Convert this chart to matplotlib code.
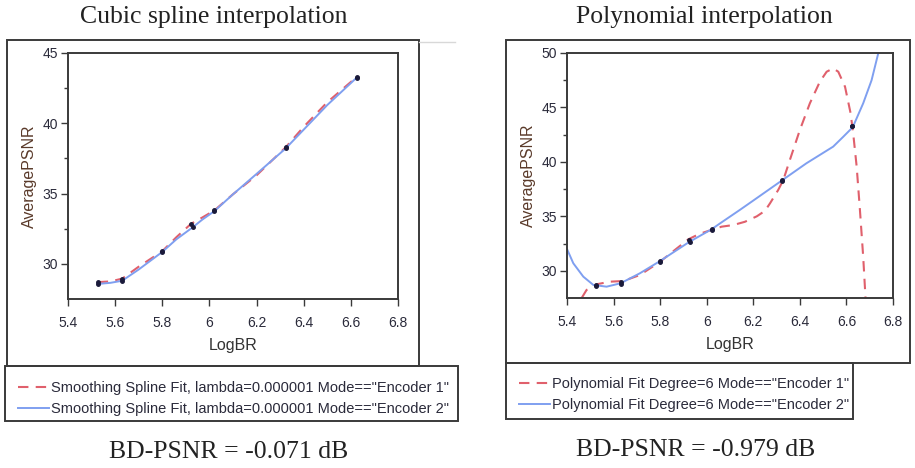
import matplotlib
matplotlib.use("Agg")
import matplotlib.pyplot as plt
from matplotlib.patches import Rectangle
from matplotlib.lines import Line2D

# measured points (same for both panels)
enc1_br = [5.526, 5.63, 5.80, 5.922, 6.021, 6.324, 6.625]
enc1_psnr = [28.7, 28.95, 30.9, 32.85, 33.8, 38.3, 43.3]
enc2_br = [5.526, 5.63, 5.80, 5.929, 6.021, 6.324, 6.625]
enc2_psnr = [28.57, 28.8, 30.85, 32.6, 33.75, 38.22, 43.25]

# smoothing spline curves
spl1_x = [5.526, 5.58, 5.63, 5.70, 5.80, 5.86, 5.922, 5.97, 6.021, 6.10, 6.20, 6.324, 6.40, 6.50, 6.625]
spl1_y = [28.7, 28.75, 28.95, 29.8, 30.9, 31.9, 32.85, 33.3, 33.8, 34.95, 36.3, 38.3, 39.75, 41.5, 43.3]
spl2_x = [5.526, 5.58, 5.63, 5.70, 5.80, 5.86, 5.929, 5.97, 6.021, 6.10, 6.20, 6.324, 6.40, 6.50, 6.625]
spl2_y = [28.57, 28.65, 28.8, 29.6, 30.85, 31.75, 32.6, 33.15, 33.75, 34.95, 36.4, 38.22, 39.55, 41.3, 43.25]

# degree-6 polynomial curves
poly1_x = [5.463, 5.484, 5.527, 5.585, 5.642, 5.713, 5.80, 5.921, 5.97, 6.02, 6.064, 6.114, 6.164,
           6.215, 6.25, 6.272, 6.307, 6.329, 6.357, 6.40, 6.443, 6.486, 6.515, 6.543, 6.565,
           6.594, 6.618, 6.629, 6.644, 6.658, 6.672, 6.682]
poly1_y = [27.5, 28.24, 28.76, 29.0, 29.06, 29.61, 30.84, 32.89, 33.4, 33.75, 34.05, 34.2, 34.5,
           35.0, 35.5, 36.2, 37.42, 38.34, 40.17, 42.93, 45.38, 47.37, 48.28, 48.59, 48.28,
           46.9, 44.46, 42.63, 39.56, 35.58, 31.29, 27.5]
poly2_x = [5.40, 5.427, 5.47, 5.513, 5.57, 5.63, 5.713, 5.80, 5.925, 6.02, 6.057, 6.143, 6.2,
           6.32, 6.428, 6.543, 6.586, 6.627, 6.672, 6.708, 6.737]
poly2_y = [32.0, 30.69, 29.46, 28.7, 28.54, 28.85, 29.77, 30.9, 32.65, 33.8, 34.35, 35.6, 36.45,
           38.25, 39.87, 41.4, 42.3, 43.18, 45.38, 47.5, 50.0]

spline_labels = ['Smoothing Spline Fit, lambda=0.000001 Mode=="Encoder 1"',
                 'Smoothing Spline Fit, lambda=0.000001 Mode=="Encoder 2"']
poly_labels = ['Polynomial Fit Degree=6 Mode=="Encoder 1"',
               'Polynomial Fit Degree=6 Mode=="Encoder 2"']

W, H = 915, 468
RED = '#e0606c'
BLUE = '#7f9ff0'
EDGE = '#3a3a3a'


def box(x0, y0, x1, y1):
    # pixel box (top-left origin) -> figure fraction rect
    return [x0 / W, 1 - y1 / H, (x1 - x0) / W, (y1 - y0) / H]


fig = plt.figure(figsize=(W / 100, H / 100), dpi=100)


def frame(x0, y0, x1, y1):
    r = box(x0, y0, x1, y1)
    fig.add_artist(Rectangle((r[0], r[1]), r[2], r[3], transform=fig.transFigure,
                             fill=False, edgecolor=EDGE, lw=1.4))


def panel(rect, ylim, ymajor, c1, c2, labels, leg_xy):
    ax = fig.add_axes(box(*rect))
    ax.plot(c1[0], c1[1], color=RED, lw=1.5, dashes=(5, 3.5), label=labels[0])
    ax.plot(c2[0], c2[1], color=BLUE, lw=1.4, label=labels[1])
    ax.plot(enc1_br, enc1_psnr, 'o', ms=2.5, color='#1a1a3a', zorder=5)
    ax.plot(enc2_br, enc2_psnr, 'o', ms=2.5, color='#1a1a3a', zorder=5)
    ax.set_xlim(5.4, 6.8)
    ax.set_ylim(*ylim)
    ax.set_xticks([5.4, 5.6, 5.8, 6.0, 6.2, 6.4, 6.6, 6.8])
    ax.set_xticklabels(['5.4', '5.6', '5.8', '6', '6.2', '6.4', '6.6', '6.8'])
    ax.set_yticks(ymajor)
    ax.set_yticks([v + 2.5 for v in ymajor[:-1]], minor=True)
    ax.tick_params(which='major', direction='out', length=5, width=1, colors=EDGE,
                   labelsize=10, labelcolor='#2a2a3a', pad=2)
    ax.tick_params(axis='x', which='major', pad=7)
    ax.tick_params(which='minor', direction='out', length=3, width=1, colors=EDGE)
    for s in ax.spines.values():
        s.set_color(EDGE)
        s.set_linewidth(1.4)
    ax.set_xlabel('LogBR', fontsize=11.5, color='#333333', labelpad=6)
    ax.set_ylabel('AveragePSNR', fontsize=11.5, color='#5a3a2a', labelpad=4)
    fig.legend(handles=ax.get_lines()[:2], labels=labels, loc='upper left',
               bbox_to_anchor=(leg_xy[0] / W, 1 - leg_xy[1] / H), frameon=False,
               fontsize=10.5, handlelength=2.1, handletextpad=0.15, labelspacing=0.5,
               borderpad=0, borderaxespad=0, labelcolor='#2a2a3a')
    return ax


plt.rcParams['font.family'] = ['Liberation Sans', 'DejaVu Sans']

panel((68, 53, 398, 299), (27.5, 45), [30, 35, 40, 45],
      (spl1_x, spl1_y), (spl2_x, spl2_y), spline_labels, (18, 381))
panel((567, 53, 893, 298), (27.5, 50), [30, 35, 40, 45, 50],
      (poly1_x, poly1_y), (poly2_x, poly2_y), poly_labels, (519, 377))

# outer frames and legend boxes
frame(7, 40, 419, 366)
frame(5, 366, 458, 421)
frame(506, 40, 910, 363)
frame(506, 363, 853, 419)
fig.add_artist(Line2D([419 / W, 455 / W], [1 - 42 / H, 1 - 42 / H], transform=fig.transFigure,
                      color='#d8d8d8', lw=1))

serif = ['Liberation Serif', 'DejaVu Serif']
fig.text(214 / W, 1 - 17 / H, 'Cubic spline interpolation', ha='center', va='center',
         fontsize=18.5, family=serif, color='#222222')
fig.text(704 / W, 1 - 17 / H, 'Polynomial interpolation', ha='center', va='center',
         fontsize=18.5, family=serif, color='#222222')
fig.text(229 / W, 1 - 452 / H, 'BD-PSNR = -0.071 dB', ha='center', va='center',
         fontsize=18.5, family=serif, color='#222222')
fig.text(696 / W, 1 - 450 / H, 'BD-PSNR = -0.979 dB', ha='center', va='center',
         fontsize=18.5, family=serif, color='#222222')

fig.savefig('out.png', dpi=100)
